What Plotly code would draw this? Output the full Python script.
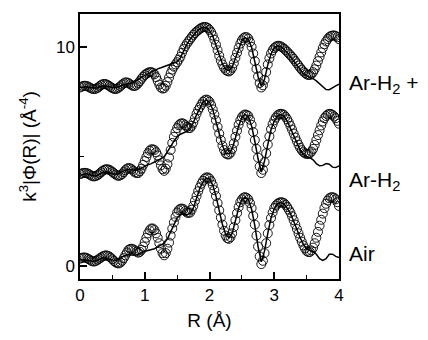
import plotly.graph_objects as go

# R grid of the measured points (Å)
R_data = [0.000, 0.025, 0.050, 0.075, 0.100, 0.125, 0.150, 0.175, 0.200, 0.225,
          0.250, 0.275, 0.300, 0.325, 0.350, 0.375, 0.400, 0.425, 0.450, 0.475,
          0.500, 0.525, 0.550, 0.575, 0.600, 0.625, 0.650, 0.675, 0.700, 0.725,
          0.750, 0.775, 0.800, 0.825, 0.850, 0.875, 0.900, 0.925, 0.950, 0.975,
          1.000, 1.025, 1.050, 1.075, 1.100, 1.125, 1.150, 1.175, 1.200, 1.225,
          1.250, 1.275, 1.300, 1.325, 1.350, 1.375, 1.400, 1.425, 1.450, 1.475,
          1.500, 1.525, 1.550, 1.575, 1.600, 1.625, 1.650, 1.675, 1.700, 1.725,
          1.750, 1.775, 1.800, 1.825, 1.850, 1.875, 1.900, 1.925, 1.950, 1.975,
          2.000, 2.025, 2.050, 2.075, 2.100, 2.125, 2.150, 2.175, 2.200, 2.225,
          2.250, 2.275, 2.300, 2.325, 2.350, 2.375, 2.400, 2.425, 2.450, 2.475,
          2.500, 2.525, 2.550, 2.575, 2.600, 2.625, 2.650, 2.675, 2.700, 2.725,
          2.750, 2.775, 2.800, 2.825, 2.850, 2.875, 2.900, 2.925, 2.950, 2.975,
          3.000, 3.025, 3.050, 3.075, 3.100, 3.125, 3.150, 3.175, 3.200, 3.225,
          3.250, 3.275, 3.300, 3.325, 3.350, 3.375, 3.400, 3.425, 3.450, 3.475,
          3.500, 3.525, 3.550, 3.575, 3.600, 3.625, 3.650, 3.675, 3.700, 3.725,
          3.750, 3.775, 3.800, 3.825, 3.850, 3.875, 3.900, 3.925, 3.950, 3.975,
          4.000]

# R grid of the fit curves (Å)
R_fit = [0.00, 0.05, 0.10, 0.15, 0.20, 0.25, 0.30, 0.35, 0.40, 0.45,
         0.50, 0.55, 0.60, 0.65, 0.70, 0.75, 0.80, 0.85, 0.90, 0.95,
         1.00, 1.05, 1.10, 1.15, 1.20, 1.25, 1.30, 1.35, 1.40, 1.45,
         1.50, 1.55, 1.60, 1.65, 1.70, 1.75, 1.80, 1.85, 1.90, 1.95,
         2.00, 2.05, 2.10, 2.15, 2.20, 2.25, 2.30, 2.35, 2.40, 2.45,
         2.50, 2.55, 2.60, 2.65, 2.70, 2.75, 2.80, 2.85, 2.90, 2.95,
         3.00, 3.05, 3.10, 3.15, 3.20, 3.25, 3.30, 3.35, 3.40, 3.45,
         3.50, 3.55, 3.60, 3.65, 3.70, 3.75, 3.80, 3.85, 3.90, 3.95, 4.00]

air_data = [0.35, 0.38, 0.40, 0.40, 0.38, 0.34, 0.30, 0.25, 0.22, 0.22,
            0.25, 0.30, 0.35, 0.40, 0.45, 0.48, 0.50, 0.48, 0.45, 0.39,
            0.32, 0.24, 0.18, 0.14, 0.13, 0.17, 0.25, 0.37, 0.50, 0.63,
            0.75, 0.79, 0.80, 0.77, 0.72, 0.66, 0.62, 0.66, 0.75, 0.90,
            1.10, 1.30, 1.50, 1.64, 1.72, 1.72, 1.65, 1.50, 1.30, 1.05,
            0.80, 0.60, 0.50, 0.60, 0.80, 1.08, 1.40, 1.72, 2.00, 2.25,
            2.45, 2.56, 2.62, 2.63, 2.60, 2.52, 2.45, 2.43, 2.45, 2.58,
            2.75, 2.98, 3.20, 3.42, 3.60, 3.77, 3.90, 4.00, 4.05, 4.05,
            4.00, 3.88, 3.70, 3.47, 3.20, 2.88, 2.55, 2.22, 1.90, 1.62,
            1.40, 1.28, 1.25, 1.33, 1.50, 1.78, 2.10, 2.42, 2.70, 2.92,
            3.05, 3.13, 3.15, 3.12, 3.05, 2.88, 2.65, 2.30, 1.90, 1.40,
            0.90, 0.45, 0.10, 0.25, 0.60, 1.05, 1.50, 1.88, 2.20, 2.45,
            2.65, 2.77, 2.85, 2.90, 2.92, 2.91, 2.88, 2.80, 2.70, 2.58,
            2.45, 2.28, 2.10, 1.90, 1.70, 1.50, 1.30, 1.12, 0.95, 0.81,
            0.70, 0.65, 0.65, 0.72, 0.85, 1.05, 1.30, 1.57, 1.85, 2.12,
            2.40, 2.65, 2.85, 3.00, 3.10, 3.14, 3.15, 3.12, 3.05, 2.92,
            2.75]
air_fit = [0.30, 0.30, 0.28, 0.25, 0.22, 0.25, 0.32, 0.38, 0.38, 0.33,
           0.28, 0.27, 0.32, 0.42, 0.50, 0.52, 0.50, 0.50, 0.55, 0.62,
           0.68, 0.72, 0.75, 0.80, 0.88, 0.95, 1.05, 1.25, 1.55, 1.90,
           2.20, 2.35, 2.38, 2.35, 2.40, 2.65, 3.10, 3.55, 3.85, 4.02,
           3.98, 3.70, 3.20, 2.55, 1.90, 1.45, 1.30, 1.50, 2.05, 2.65,
           3.05, 3.15, 3.05, 2.60, 1.85, 0.90, 0.20, 0.70, 1.50, 2.20,
           2.62, 2.85, 2.92, 2.85, 2.65, 2.40, 2.05, 1.65, 1.30, 1.00,
           0.80, 0.72, 0.68, 0.55, 0.35, 0.27, 0.35, 0.55, 0.55, 0.45, 0.40]

arh2_data = [4.20, 4.23, 4.25, 4.26, 4.25, 4.22, 4.18, 4.13, 4.10, 4.10,
             4.12, 4.16, 4.22, 4.29, 4.35, 4.40, 4.42, 4.42, 4.40, 4.36,
             4.30, 4.24, 4.18, 4.14, 4.12, 4.15, 4.20, 4.29, 4.38, 4.45,
             4.48, 4.46, 4.42, 4.35, 4.28, 4.25, 4.25, 4.33, 4.45, 4.62,
             4.80, 4.98, 5.15, 5.27, 5.33, 5.33, 5.30, 5.20, 5.05, 4.83,
             4.60, 4.43, 4.35, 4.45, 4.65, 4.96, 5.30, 5.62, 5.90, 6.12,
             6.30, 6.43, 6.50, 6.52, 6.50, 6.43, 6.35, 6.30, 6.30, 6.40,
             6.55, 6.75, 6.95, 7.12, 7.25, 7.38, 7.50, 7.57, 7.60, 7.57,
             7.50, 7.35, 7.15, 6.92, 6.65, 6.35, 6.05, 5.76, 5.50, 5.30,
             5.15, 5.10, 5.10, 5.18, 5.35, 5.60, 5.90, 6.18, 6.45, 6.65,
             6.80, 6.88, 6.92, 6.90, 6.85, 6.68, 6.45, 6.12, 5.75, 5.35,
             4.95, 4.55, 4.25, 4.40, 4.75, 5.15, 5.55, 5.92, 6.25, 6.48,
             6.65, 6.78, 6.88, 6.93, 6.95, 6.94, 6.90, 6.81, 6.70, 6.56,
             6.40, 6.23, 6.05, 5.87, 5.70, 5.54, 5.40, 5.29, 5.20, 5.15,
             5.12, 5.12, 5.15, 5.23, 5.35, 5.53, 5.75, 5.98, 6.20, 6.42,
             6.60, 6.75, 6.85, 6.92, 6.95, 6.94, 6.90, 6.83, 6.75, 6.63,
             6.50]
arh2_fit = [4.15, 4.20, 4.22, 4.18, 4.12, 4.12, 4.20, 4.28, 4.30, 4.28,
            4.22, 4.20, 4.22, 4.30, 4.38, 4.42, 4.40, 4.38, 4.40, 4.48,
            4.55, 4.62, 4.68, 4.75, 4.82, 4.90, 5.00, 5.20, 5.45, 5.70,
            5.90, 6.02, 6.08, 6.15, 6.30, 6.55, 6.90, 7.22, 7.48, 7.58,
            7.48, 7.15, 6.65, 6.05, 5.50, 5.15, 5.12, 5.35, 5.85, 6.40,
            6.78, 6.92, 6.82, 6.40, 5.70, 4.90, 4.30, 4.80, 5.55, 6.22,
            6.62, 6.85, 6.92, 6.85, 6.62, 6.30, 5.95, 5.60, 5.30, 5.10,
            5.00, 4.95, 4.85, 4.68, 4.58, 4.60, 4.68, 4.65, 4.52, 4.50, 4.58]

arh2p_data = [8.15, 8.19, 8.22, 8.23, 8.22, 8.19, 8.15, 8.11, 8.08, 8.08,
              8.10, 8.14, 8.20, 8.26, 8.30, 8.31, 8.30, 8.27, 8.22, 8.17,
              8.12, 8.09, 8.08, 8.10, 8.15, 8.21, 8.28, 8.34, 8.38, 8.38,
              8.35, 8.30, 8.25, 8.22, 8.22, 8.27, 8.35, 8.44, 8.55, 8.64,
              8.72, 8.78, 8.82, 8.85, 8.85, 8.82, 8.75, 8.62, 8.45, 8.28,
              8.15, 8.10, 8.12, 8.23, 8.40, 8.60, 8.80, 8.96, 9.10, 9.20,
              9.30, 9.42, 9.55, 9.73, 9.90, 10.03, 10.15, 10.25, 10.35, 10.45,
              10.55, 10.63, 10.70, 10.76, 10.82, 10.87, 10.90, 10.91, 10.90, 10.86,
              10.78, 10.67, 10.52, 10.33, 10.10, 9.85, 9.60, 9.38, 9.20, 9.05,
              8.95, 8.90, 8.88, 8.93, 9.05, 9.25, 9.50, 9.73, 9.95, 10.15,
              10.30, 10.40, 10.45, 10.44, 10.38, 10.22, 10.00, 9.70, 9.35, 9.00,
              8.65, 8.35, 8.15, 8.25, 8.50, 8.85, 9.20, 9.48, 9.70, 9.85,
              9.95, 10.01, 10.05, 10.05, 10.02, 9.98, 9.92, 9.85, 9.78, 9.70,
              9.62, 9.54, 9.45, 9.35, 9.25, 9.15, 9.05, 8.96, 8.88, 8.81,
              8.75, 8.72, 8.72, 8.76, 8.85, 8.98, 9.15, 9.35, 9.55, 9.75,
              9.95, 10.12, 10.25, 10.36, 10.45, 10.50, 10.52, 10.52, 10.50, 10.44,
              10.35]
arh2p_fit = [8.15, 8.18, 8.18, 8.15, 8.12, 8.12, 8.18, 8.22, 8.22, 8.18,
             8.15, 8.15, 8.18, 8.25, 8.30, 8.32, 8.35, 8.42, 8.52, 8.62,
             8.70, 8.78, 8.85, 8.92, 9.00, 9.05, 9.10, 9.15, 9.20, 9.25,
             9.32, 9.50, 9.85, 10.12, 10.35, 10.55, 10.70, 10.82, 10.90, 10.88,
             10.75, 10.50, 10.10, 9.62, 9.22, 8.98, 8.92, 9.08, 9.48, 9.92,
             10.28, 10.42, 10.35, 9.98, 9.35, 8.65, 8.20, 8.52, 9.18, 9.68,
             9.95, 10.05, 10.02, 9.90, 9.75, 9.55, 9.35, 9.15, 8.95, 8.78,
             8.68, 8.62, 8.55, 8.45, 8.32, 8.18, 8.06, 8.05, 8.12, 8.22, 8.30]

labels = ["Air", "Ar-H<sub>2</sub>", "Ar-H<sub>2</sub> +"]
label_y = [0.6, 3.9, 8.3]

FONT = "Liberation Sans, Arial, sans-serif"

fig = go.Figure()
for d, f in [(air_data, air_fit), (arh2_data, arh2_fit), (arh2p_data, arh2p_fit)]:
    fig.add_trace(go.Scatter(x=R_data, y=d, mode="markers",
                             marker=dict(symbol="circle-open", size=9, color="black",
                                         line=dict(width=0.9, color="black")),
                             showlegend=False))
    fig.add_trace(go.Scatter(x=R_fit, y=f, mode="lines",
                             line=dict(color="black", width=1.5),
                             showlegend=False))

for t, yy in zip(labels, label_y):
    fig.add_annotation(x=1.03, xref="paper", y=yy, yref="y", text=t,
                       showarrow=False, xanchor="left", yanchor="middle",
                       font=dict(family=FONT, size=21, color="black"))

axis_common = dict(showline=True, linecolor="black", linewidth=1.5, mirror=True,
                   ticks="inside", ticklen=7, tickwidth=1.5, tickcolor="black",
                   showgrid=False, zeroline=False,
                   tickfont=dict(family=FONT, size=17, color="black"))

fig.update_xaxes(range=[0, 4], dtick=1, tick0=0,
                 minor=dict(dtick=0.5, ticks="inside", ticklen=4, tickwidth=1.2,
                            tickcolor="black", showgrid=False),
                 title=dict(text="R (Å)", font=dict(family=FONT, size=19, color="black"),
                            standoff=10),
                 **axis_common)
fig.update_yaxes(range=[-0.58, 11.5], dtick=10, tick0=0,
                 minor=dict(dtick=5, ticks="inside", ticklen=4, tickwidth=1.2,
                            tickcolor="black", showgrid=False),
                 title=dict(text="k<sup>3</sup>|Φ(R)| (Å<sup>-4</sup>)",
                            font=dict(family=FONT, size=19, color="black"),
                            standoff=14),
                 **axis_common)

fig.update_layout(width=428, height=340,
                  margin=dict(l=80, r=89, t=14, b=54),
                  paper_bgcolor="white", plot_bgcolor="white",
                  font=dict(family=FONT, color="black"))

fig.write_html("out.html", config={"displayModeBar": False},
               post_script="document.body.style.margin='0px';")
